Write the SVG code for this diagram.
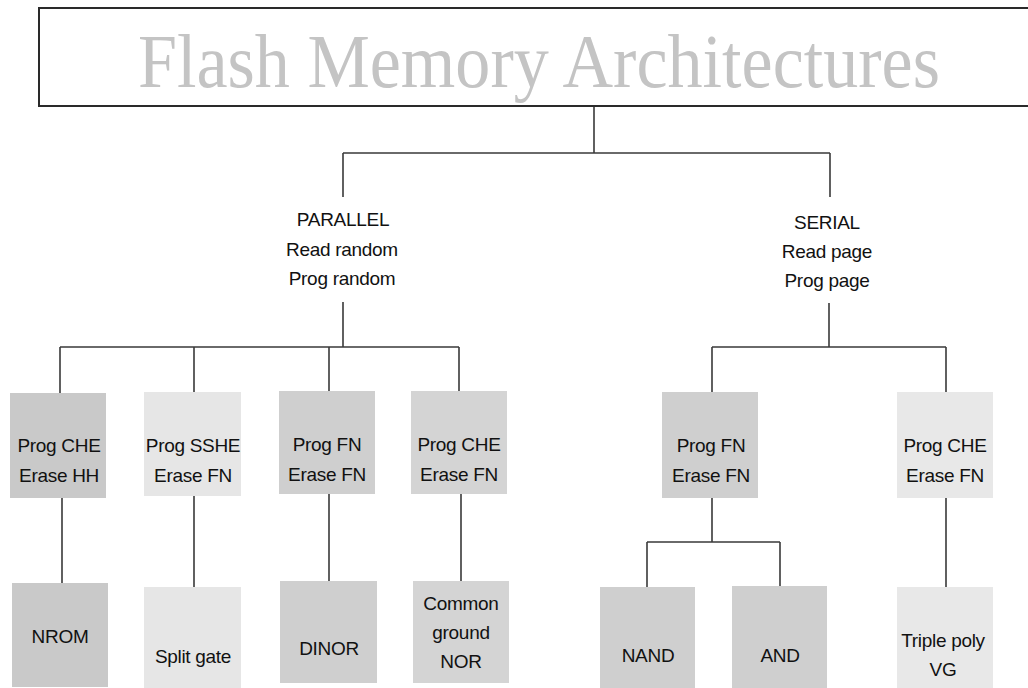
<svg xmlns="http://www.w3.org/2000/svg" width="1028" height="688" viewBox="0 0 1028 688">
<style>
.ln{stroke:#3a3a3a;stroke-width:1.6;fill:none}
.t{font-family:"Liberation Sans",Arial,sans-serif;font-size:19px;fill:#111111;text-anchor:middle;letter-spacing:-0.3px}
.c1{fill:#c9c9c9}
.c2{fill:#e6e6e6}
.c3{fill:#cfcfcf}
.c4{fill:#d4d4d4}
.c5{fill:#e8e8e8}
</style>
<rect width="1028" height="688" fill="#ffffff"/>
<g id="title">
<rect x="39" y="8" width="1000" height="98" fill="#ffffff" stroke="#2a2a2a" stroke-width="2"/>
<text x="138" y="87" font-family="'Liberation Serif','Times New Roman',serif" font-size="76" fill="#c4c4c4" textLength="802" lengthAdjust="spacingAndGlyphs">Flash Memory Architectures</text>
</g>
<g id="connectors">
<path class="ln" d="M594 107V153M343 153H830M343 153V197M830 153V197"/>
<path class="ln" d="M343 302V347M60 347H459M60 347V393M194 347V392M329 347V391M459 347V391"/>
<path class="ln" d="M62 498V583M194 496V587M329 494V581M461 494V581"/>
<path class="ln" d="M829 303V347M712 347H946M712 347V392M946 347V392"/>
<path class="ln" d="M712 498V542M647 542H780M647 542V587M780 542V586M946 498V587"/>
</g>
<g id="parallel">
<text class="t" x="343" y="226">PARALLEL</text>
<text class="t" x="342" y="256">Read random</text>
<text class="t" x="342" y="285">Prog random</text>
</g>
<g id="serial">
<text class="t" x="827" y="229">SERIAL</text>
<text class="t" x="827" y="258">Read page</text>
<text class="t" x="827" y="287">Prog page</text>
</g>
<g id="p1"><rect class="c1" x="10" y="393" width="96" height="105"/><text class="t" x="59" y="452">Prog CHE</text><text class="t" x="59" y="482">Erase HH</text></g>
<g id="p2"><rect class="c2" x="144" y="392" width="97" height="104"/><text class="t" x="193" y="452">Prog SSHE</text><text class="t" x="193" y="482">Erase FN</text></g>
<g id="p3"><rect class="c3" x="279" y="391" width="96" height="103"/><text class="t" x="327" y="451">Prog FN</text><text class="t" x="327" y="481">Erase FN</text></g>
<g id="p4"><rect class="c4" x="411" y="391" width="96" height="103"/><text class="t" x="459" y="451">Prog CHE</text><text class="t" x="459" y="481">Erase FN</text></g>
<g id="s1"><rect class="c3" x="662" y="392" width="96" height="106"/><text class="t" x="711" y="452">Prog FN</text><text class="t" x="711" y="482">Erase FN</text></g>
<g id="s2"><rect class="c5" x="897" y="392" width="96" height="106"/><text class="t" x="945" y="452">Prog CHE</text><text class="t" x="945" y="482">Erase FN</text></g>
<g id="nrom"><rect class="c1" x="12" y="583" width="96" height="104"/><text class="t" x="60" y="643">NROM</text></g>
<g id="split"><rect class="c2" x="144" y="587" width="97" height="101"/><text class="t" x="193" y="663">Split gate</text></g>
<g id="dinor"><rect class="c3" x="280" y="581" width="97" height="102"/><text class="t" x="329" y="655">DINOR</text></g>
<g id="cgnor"><rect class="c4" x="413" y="581" width="96" height="102"/><text class="t" x="461" y="610">Common</text><text class="t" x="461" y="639">ground</text><text class="t" x="461" y="668">NOR</text></g>
<g id="nand"><rect class="c3" x="600" y="587" width="95" height="101"/><text class="t" x="648" y="662">NAND</text></g>
<g id="and"><rect class="c3" x="732" y="586" width="95" height="102"/><text class="t" x="780" y="662">AND</text></g>
<g id="vg"><rect class="c5" x="897" y="587" width="96" height="101"/><text class="t" x="943" y="647">Triple poly</text><text class="t" x="943" y="676">VG</text></g>
</svg>
